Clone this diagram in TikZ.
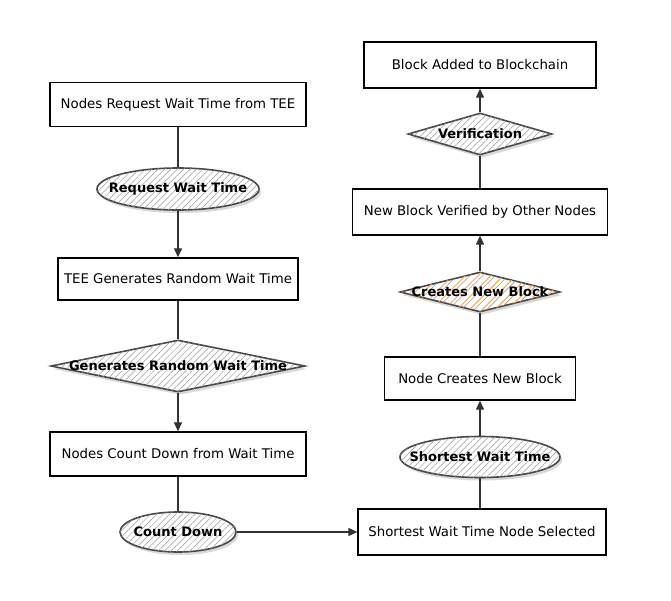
\documentclass[tikz,border=0pt]{standalone}
\usepackage{fontspec}
\setmainfont{DejaVu Sans}
\usetikzlibrary{shapes.geometric, arrows.meta, patterns.meta, shadows}
\tikzset{
  box/.style={draw=black, line width=1.3pt, minimum width=#1, minimum height=44pt, inner sep=0pt, fill=white, font=\fontsize{13.3}{15}\selectfont},
  shad/.style={drop shadow={shadow xshift=2pt, shadow yshift=-3pt, opacity=0.25, fill=black!60}},
  shp/.style={draw=black!72, line width=1.6pt, fill=white, inner sep=0pt, shad,
    postaction={pattern={Lines[angle=45,distance=4.5pt,line width=0.5pt]}, pattern color=black!40}},
  shporange/.style={draw=black!72, line width=1.6pt, fill=white, inner sep=0pt, shad,
    postaction={pattern={Lines[angle=45,distance=9pt,line width=1pt]}, pattern color=orange!70},
    postaction={pattern={Lines[angle=45,distance=9pt,line width=0.6pt,xshift=4.5pt]}, pattern color=black!40}},
  lbl/.style={font=\bfseries\fontsize{13}{15}\selectfont, inner sep=0pt},
  flow/.style={draw=black!80, line width=1.2pt},
  arr/.style={flow, -{Triangle[length=9pt,width=8pt]}},
}
\begin{document}
\begin{tikzpicture}[x=1pt,y=-1pt]
\useasboundingbox (0,0) rectangle (671,601);
% left column
\node[box=256pt] (b1) at (178,104.5) {Nodes Request Wait Time from TEE};
\node[shp, ellipse, minimum width=162pt, minimum height=42pt] (e1) at (178,189) {};
\node[lbl] (t1) at (e1.center) {Request Wait Time};
\node[box=240pt, minimum height=42pt] (b2) at (178,279) {TEE Generates Random Wait Time};
\node[shp, diamond, minimum width=254pt, minimum height=52pt] (d1) at (178,366) {};
\node[lbl] (t2) at (d1.center) {Generates Random Wait Time};
\node[box=256pt] (b3) at (178,454) {Nodes Count Down from Wait Time};
\node[shp, ellipse, minimum width=116pt, minimum height=40pt] (e2) at (178,532) {};
\node[lbl] (t3) at (e2.center) {Count Down};
% right column
\node[box=248pt, minimum height=46pt] (b4) at (482,532) {Shortest Wait Time Node Selected};
\node[shp, ellipse, minimum width=160pt, minimum height=41pt] (e3) at (480,457) {};
\node[lbl] (t4) at (e3.center) {Shortest Wait Time};
\node[box=191pt, minimum height=43pt] (b5) at (480,378.5) {Node Creates New Block};
\node[shporange, diamond, minimum width=160pt, minimum height=40pt] (d2) at (480,292) {};
\node[lbl] (t5) at (d2.center) {Creates New Block};
\node[box=255pt, minimum height=46pt] (b6) at (480,212) {New Block Verified by Other Nodes};
\node[shp, diamond, minimum width=144pt, minimum height=42pt] (d3) at (480,134) {};
\node[lbl] (t6) at (d3.center) {Verification};
\node[box=232pt, minimum height=46pt] (b7) at (480,65) {Block Added to Blockchain};
% connectors
\draw[flow] (b1) -- (e1);
\draw[arr] (e1) -- (b2);
\draw[flow] (b2) -- (d1);
\draw[arr] (d1) -- (b3);
\draw[flow] (b3) -- (e2);
\draw[arr] (e2) -- (b4);
\draw[flow] (e3.south) -- (e3.south |- b4.north);
\draw[arr] (e3) -- (b5);
\draw[flow] (b5) -- (d2);
\draw[arr] (d2) -- (b6);
\draw[flow] (b6) -- (d3);
\draw[arr] (d3) -- (b7);
\end{tikzpicture}
\end{document}
